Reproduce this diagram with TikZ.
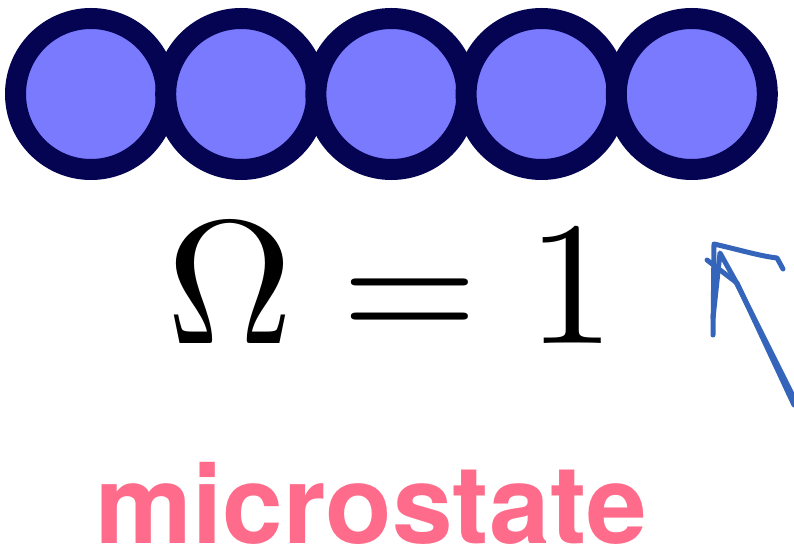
\documentclass[tikz,border=0pt]{standalone}
\usepackage{fontspec}
\newfontfamily\labelfont{TeX Gyre Heros}
\usepackage{tikz}
\definecolor{ballfill}{RGB}{122,122,255}
\definecolor{ballrim}{RGB}{4,4,82}
\definecolor{labelpink}{RGB}{255,107,138}
\definecolor{penblue}{RGB}{52,101,186}
\tikzstyle{ball}=[circle, draw=ballrim, fill=ballfill, line width=21pt, minimum size=151pt, inner sep=0pt]
\tikzstyle{pen}=[penblue, line width=5pt, line cap=round, line join=round]

\begin{document}
\begin{tikzpicture}
        [x=1pt,y=-1pt]
            \useasboundingbox (0,0) rectangle (794,553);
            \foreach \i in {1,...,5}
                \node [ball] (ball\i) at ({91+150.2*(\i-1)},94) {};
            \node [anchor=base, scale=17.6] (omega) at (391,343) {$\Omega = 1$};
            \node [anchor=base, inner sep=0pt, text depth=0pt, text=labelpink, font=\labelfont\bfseries\fontsize{109}{109}\selectfont] (micro) at (371,543) {microstate};
            \coordinate (tip) at (720,253);
            \draw [pen] (713,335) -- (714,244) .. controls (740,250) and (760,256) .. (777,258) -- (783,269);
            \draw [pen] (707,260) -- (737,283) -- (794,405);
            \draw [pen] (713,318) -- (tip) -- (735,280) -- (794,398);
        \end{tikzpicture}
\end{document}
